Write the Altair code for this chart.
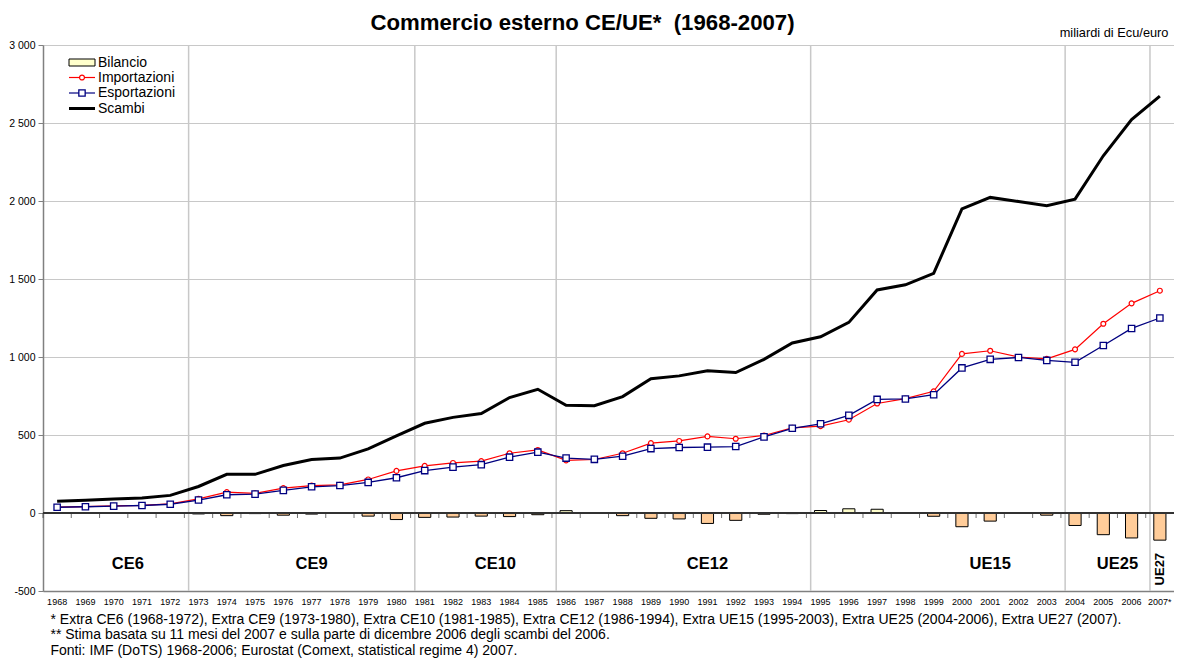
import altair as alt
import pandas as pd

FONT = "Liberation Sans"

years = ["1968", "1969", "1970", "1971", "1972", "1973", "1974", "1975", "1976", "1977",
         "1978", "1979", "1980", "1981", "1982", "1983", "1984", "1985", "1986", "1987",
         "1988", "1989", "1990", "1991", "1992", "1993", "1994", "1995", "1996", "1997",
         "1998", "1999", "2000", "2001", "2002", "2003", "2004", "2005", "2006", "2007*"]

bilancio = [-2, -1, -2, -1, -3, -6, -17, -4, -14, -7,
            -3, -20, -42, -28, -26, -20, -23, -11, 15, -2,
            -17, -34, -38, -67, -47, -8, -4, 16, 27, 24,
            -3, -21, -88, -52, -3, -14, -80, -139, -160, -174]

importazioni = [38, 41, 46, 49, 58, 91, 134, 126, 160, 176,
                180, 215, 270, 302, 321, 333, 383, 404, 337, 343,
                383, 448, 462, 491, 476, 497, 546, 557, 598, 702,
                733, 780, 1020, 1040, 1000, 988, 1049, 1213, 1344, 1425]

esportazioni = [37, 40, 44, 48, 56, 83, 117, 121, 145, 168,
                176, 196, 226, 272, 294, 310, 358, 390, 352, 344,
                364, 413, 420, 422, 426, 488, 543, 572, 626, 728,
                731, 758, 930, 985, 997, 978, 966, 1074, 1183, 1250]

scambi = [75, 81, 89, 96, 113, 170, 248, 248, 304, 343,
          352, 411, 494, 575, 613, 638, 740, 793, 690, 688,
          746, 861, 879, 912, 900, 985, 1090, 1130, 1222, 1430,
          1463, 1536, 1949, 2023, 1997, 1970, 2012, 2290, 2522, 2672]

separators = ["1973", "1981", "1986", "1995", "2004", "2007*"]

era_mid_labels = ["CE9", "CE12", "UE15"]
era_mid_years = ["1977", "1991", "2001"]
era_end_labels = ["CE6", "CE10", "UE25"]
era_end_years = ["1970", "1983", "2005"]
era_last_label = ["UE27"]
era_last_year = ["2007*"]

series_order = ["Bilancio", "Importazioni", "Esportazioni", "Scambi"]
series_colors = ["#000000", "#FF0000", "#000080", "#000000"]

y_ticks = [-500, 0, 500, 1000, 1500, 2000, 2500, 3000]

title_text = "Commercio esterno CE/UE*\u00a0 (1968-2007)"
unit_text = "miliardi di Ecu/euro"
footnotes = [
    "* Extra CE6 (1968-1972), Extra CE9 (1973-1980), Extra CE10 (1981-1985), Extra CE12 (1986-1994), Extra UE15 (1995-2003), Extra UE25 (2004-2006), Extra UE27 (2007).",
    "** Stima  basata su 11 mesi del  2007 e sulla parte di dicembre 2006 degli scambi del 2006.",
    "Fonti: IMF (DoTS) 1968-2006; Eurostat (Comext, statistical regime 4) 2007.",
]

# ---------------- data tables ----------------
df_bar = pd.DataFrame({"year": years, "value": bilancio})
df_imp = pd.DataFrame({"year": years, "value": importazioni, "serie": "Importazioni"})
df_esp = pd.DataFrame({"year": years, "value": esportazioni, "serie": "Esportazioni"})
df_sca = pd.DataFrame({"year": years, "value": scambi, "serie": "Scambi"})
df_sep = pd.DataFrame({"year": separators})
df_ticks = pd.DataFrame({"year": years})
df_mid = pd.DataFrame({"year": era_mid_years, "label": era_mid_labels})
df_end = pd.DataFrame({"year": era_end_years, "label": era_end_labels})
df_last = pd.DataFrame({"year": era_last_year, "label": era_last_label})

x_scale = alt.Scale(domain=years, paddingInner=0, paddingOuter=0)
x_axis = alt.Axis(
    labelAngle=0, labelFontSize=9, labelFont=FONT, labelColor="#000000",
    labelPadding=6, ticks=False, grid=False,
    domainColor="#808080", domainWidth=1.5,
    title=footnotes, titleFont=FONT, titleFontSize=14, titleFontWeight="normal",
    titleAnchor="start", titleAlign="left", titleBaseline="top",
    titleX=7, titleY=21, titleLineHeight=15.5, titleColor="#000000",
)
y_scale = alt.Scale(domain=[-500, 3000], nice=False, zero=False)
y_axis = alt.Axis(
    values=y_ticks, grid=True, gridColor="#C8C8C8", gridWidth=1,
    domainColor="#808080", domainWidth=1.5, tickColor="#808080", tickSize=5,
    labelFont=FONT, labelFontSize=10.5, labelColor="#000000", labelPadding=3,
    labelExpr="(datum.value < 0 ? '-' : '') + replace(format(abs(datum.value), ','), ',', ' ')",
    title=unit_text, titleAngle=0, titleAlign="right", titleBaseline="middle",
    titleX=1125, titleY=-13, titleFont=FONT, titleFontSize=12.8,
    titleFontWeight="normal", titleColor="#000000",
)


def X(band=0.5):
    return alt.X("year:N", sort=years, scale=x_scale, axis=x_axis, bandPosition=band)


def Y():
    return alt.Y("value:Q", scale=y_scale, axis=y_axis)


stroke_enc = alt.Stroke("serie:N", scale=alt.Scale(domain=series_order, range=series_colors), legend=None)

sep_layer = alt.Chart(df_sep).mark_rule(color="#C8C8C8", strokeWidth=1.5).encode(x=X(0.15))

bar_layer = alt.Chart(df_bar).mark_bar(
    width=alt.RelativeBandSize(0.43), stroke="#000000", strokeWidth=1
).encode(
    x=X(),
    y=Y(),
    fill=alt.condition("datum.value >= 0", alt.value("#FFFFCC"), alt.value("#FFCC99")),
)

zero_layer = alt.Chart(df_ticks).mark_rule(color="#333333", strokeWidth=1.3).encode(y=alt.datum(0))

tick_layer = alt.Chart(df_ticks).mark_tick(
    orient="vertical", size=5, thickness=1, color="#333333", yOffset=2.5
).encode(x=X(0), y=alt.datum(0))

sca_layer = alt.Chart(df_sca).mark_line(strokeWidth=3).encode(x=X(), y=Y(), stroke=stroke_enc)

imp_layer = alt.Chart(df_imp).mark_line(
    strokeWidth=1.2,
    point=alt.OverlayMarkDef(shape="circle", size=24, filled=True, fill="#FFFFFF", strokeWidth=1.2),
).encode(x=X(), y=Y(), stroke=stroke_enc)

esp_layer = alt.Chart(df_esp).mark_line(
    strokeWidth=1.3,
    point=alt.OverlayMarkDef(shape="square", size=40, filled=True, fill="#FFFFFF", strokeWidth=1.3),
).encode(x=X(), y=Y(), stroke=stroke_enc)

mid_text = alt.Chart(df_mid).mark_text(
    font=FONT, fontSize=16.5, fontWeight="bold", color="#000000", baseline="middle"
).encode(x=X(0.5), y=alt.datum(-325), text="label:N")

end_text = alt.Chart(df_end).mark_text(
    font=FONT, fontSize=16.5, fontWeight="bold", color="#000000", baseline="middle"
).encode(x=X(1), y=alt.datum(-325), text="label:N")

last_text = alt.Chart(df_last).mark_text(
    font=FONT, fontSize=13, fontWeight="bold", color="#000000", baseline="middle", angle=270
).encode(x=X(0.5), y=alt.datum(-360), text="label:N")

# ---------------- manual legend (top-left, inside the plot) ----------------
legend_layers = []
row_y = {"Bilancio": 17.5, "Importazioni": 32.5, "Esportazioni": 48, "Scambi": 63.5}
sym_x0, sym_x1, sym_xc, lab_x = 26, 52, 39, 55
for name, color in zip(series_order, series_colors):
    d = pd.DataFrame({"serie": [name]})
    yy = row_y[name]
    if name == "Bilancio":
        legend_layers.append(
            alt.Chart(d).mark_rect(fill="#FFFFCC", stroke="#000000", strokeWidth=1).encode(
                x=alt.value(sym_x0), x2=alt.value(sym_x1), y=alt.value(yy - 3.5), y2=alt.value(yy + 3.5)
            )
        )
    else:
        legend_layers.append(
            alt.Chart(d).mark_rule(color=color, strokeWidth=3 if name == "Scambi" else 1.2).encode(
                x=alt.value(sym_x0), x2=alt.value(sym_x1), y=alt.value(yy)
            )
        )
        if name == "Importazioni":
            legend_layers.append(
                alt.Chart(d).mark_point(shape="circle", size=24, filled=True, fill="#FFFFFF",
                                        stroke=color, strokeWidth=1.2, opacity=1).encode(
                    x=alt.value(sym_xc), y=alt.value(yy)
                )
            )
        if name == "Esportazioni":
            legend_layers.append(
                alt.Chart(d).mark_point(shape="square", size=40, filled=True, fill="#FFFFFF",
                                        stroke=color, strokeWidth=1.3, opacity=1).encode(
                    x=alt.value(sym_xc), y=alt.value(yy)
                )
            )
    legend_layers.append(
        alt.Chart(d).mark_text(font=FONT, fontSize=14, color="#000000", align="left",
                               baseline="middle").encode(
            x=alt.value(lab_x), y=alt.value(yy), text="serie:N"
        )
    )

chart = alt.layer(
    sep_layer, bar_layer, zero_layer, tick_layer, sca_layer, imp_layer, esp_layer,
    mid_text, end_text, last_text, *legend_layers,
).properties(
    width=1131,
    height=546,
    title=alt.Title(title_text, font=FONT, fontSize=22.2, fontWeight="bold", color="#000000",
                    anchor="middle", dx=-26, dy=22, offset=14),
    autosize=alt.AutoSizeParams(type="none"),
    padding={"left": 35, "top": 37, "right": 0, "bottom": 68},
).configure_view(stroke=None).configure(background="#FFFFFF")

chart.save("out.html", embed_options={"renderer": "svg", "actions": False})
